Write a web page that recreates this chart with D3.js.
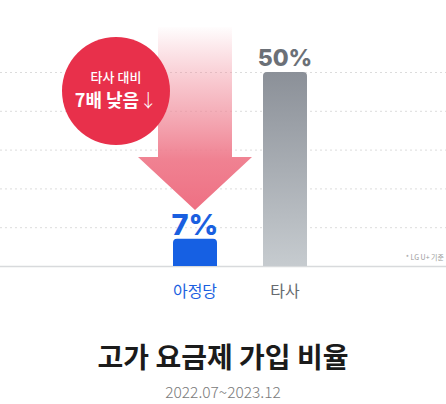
<!DOCTYPE html>
<html><head><meta charset="utf-8">
<script src="https://cdn.jsdelivr.net/npm/d3@7"></script>
<style>
html,body{margin:0;padding:0;background:#fff;}
svg{display:block;}
</style></head>
<body>
<svg id="c" width="446" height="404"></svg>
<script>
const categories = ["아정당", "타사"];
const values = [7, 50];
const valueLabels = ["7%", "50%"];
const gridValues = [10, 20, 30, 40, 50];
const title = "고가 요금제 가입 비율";
const subtitle = "2022.07~2023.12";
const note = "* LG U+ 기준";
const badgeLines = ["타사 대비", "7배 낮음", "↓"];

const W = 446, H = 404;
const baseY = 266;
const kr = "'Noto Sans CJK KR','Noto Sans',sans-serif";
const num = "Inter,'Noto Sans',sans-serif";
const svg = d3.select("#c");
const defs = svg.append("defs");

const x = d3.scalePoint().domain(categories).range([195, 285]);
const y = d3.scaleLinear().domain([0, 50]).range([baseY, 72]);
const barW = 44;

// gradients
const gGrey = defs.append("linearGradient").attr("id","gGrey").attr("x1",0).attr("y1",0).attr("x2",0).attr("y2",1);
gGrey.append("stop").attr("offset","0%").attr("stop-color","#8b9098");
gGrey.append("stop").attr("offset","100%").attr("stop-color","#c6cbcf");

const gArrow = defs.append("linearGradient").attr("id","gArrow").attr("gradientUnits","userSpaceOnUse")
  .attr("x1",0).attr("y1",25).attr("x2",0).attr("y2",212);
gArrow.append("stop").attr("offset","0%").attr("stop-color","#f07f90").attr("stop-opacity",0);
gArrow.append("stop").attr("offset","40%").attr("stop-color","#f08a99").attr("stop-opacity",0.6);
gArrow.append("stop").attr("offset","72%").attr("stop-color","#ef7b8c").attr("stop-opacity",0.95);
gArrow.append("stop").attr("offset","100%").attr("stop-color","#ee6f82").attr("stop-opacity",1);

// gridlines
svg.append("g").selectAll("line").data(gridValues).join("line")
  .attr("x1",0).attr("x2",W)
  .attr("y1",d=>y(d)+0.5).attr("y2",d=>y(d)+0.5)
  .attr("stroke","#dcdcdc").attr("stroke-width",1)
  .attr("stroke-dasharray","2,3");

// baseline
svg.append("line").attr("x1",0).attr("x2",W).attr("y1",baseY+0.5).attr("y2",baseY+0.5)
  .attr("stroke","#d8dadc").attr("stroke-width",1.5);

// bars with rounded top corners
const r = 4;
function barPath(cx, top, bottom, w){
  const x0 = cx - w/2, x1 = cx + w/2;
  return `M${x0},${bottom}L${x0},${top+r}Q${x0},${top} ${x0+r},${top}L${x1-r},${top}Q${x1},${top} ${x1},${top+r}L${x1},${bottom}Z`;
}
const barData = categories.map((c,i)=>({c, v: values[i], label: valueLabels[i]}));
svg.append("g").selectAll("path").data(barData).join("path")
  .attr("d", d=>barPath(x(d.c), y(d.v), baseY, barW))
  .attr("fill", (d,i)=> i===0 ? "#1660e3" : "url(#gGrey)");

// arrow annotation (anchored on first category)
const ax = x(categories[0]);
const shaftTop = 27, headBase = 157, tip = 210;
svg.append("path")
  .attr("d", `M${ax-37},${shaftTop}L${ax+37},${shaftTop}L${ax+37},${headBase}L${ax+57},${headBase}L${ax},${tip}L${ax-57},${headBase}L${ax-37},${headBase}Z`)
  .attr("fill","url(#gArrow)");

// value labels
svg.append("g").selectAll("text").data(barData).join("text")
  .attr("x", d=>x(d.c))
  .attr("y", (d,i)=> i===0 ? y(d.v) - 4 : y(d.v) - 6)
  .attr("text-anchor","middle")
  .attr("font-family", num)
  .attr("font-weight", 800)
  .attr("font-size", (d,i)=> i===0 ? 29 : 23)
  .attr("fill", (d,i)=> i===0 ? "#1a5fe0" : "#6b7077")
  .text(d=>d.label);

// category labels
svg.append("g").selectAll("text").data(categories).join("text")
  .attr("x", d=>x(d)).attr("y", 297)
  .attr("text-anchor","middle")
  .attr("font-family", kr).attr("font-size", 16).attr("font-weight", 400)
  .attr("fill", (d,i)=> i===0 ? "#1a5fe0" : "#666a6f")
  .text(d=>d);

// badge circle
const bx = ax - 79, by = 91;
svg.append("circle").attr("cx",bx).attr("cy",by).attr("r",54).attr("fill","#e8304b");
svg.append("text").attr("x",bx).attr("y",82).attr("text-anchor","middle")
  .attr("font-family",kr).attr("font-size",13).attr("font-weight",500).attr("fill","#fff")
  .text(badgeLines[0]);
const l2 = svg.append("text").attr("x",bx).attr("y",107).attr("text-anchor","middle")
  .attr("font-family",kr).attr("font-size",18).attr("font-weight",700).attr("fill","#fff");
l2.append("tspan").text(badgeLines[1]);
l2.append("tspan").attr("font-weight",300).text(badgeLines[2]);

// note
svg.append("text").attr("x",444).attr("y",260).attr("text-anchor","end")
  .attr("font-family",kr).attr("font-size",7).attr("fill","#999")
  .text(note);

// title & subtitle
svg.append("text").attr("x",W/2).attr("y",368).attr("text-anchor","middle")
  .attr("font-family",kr).attr("font-size",28).attr("font-weight",700).attr("fill","#1b1b1b")
  .text(title);
svg.append("text").attr("x",W/2).attr("y",398).attr("text-anchor","middle")
  .attr("font-family",kr).attr("font-size",15.5).attr("font-weight",300).attr("fill","#7a7a7a")
  .text(subtitle);
</script>
</body></html>
